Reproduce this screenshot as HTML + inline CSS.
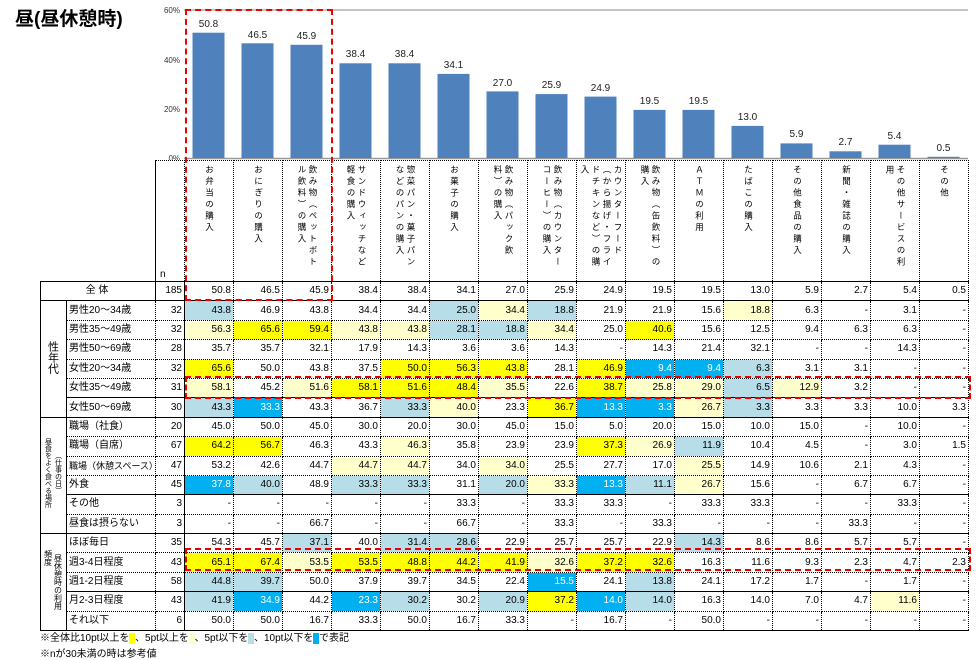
<!DOCTYPE html>
<html><head><meta charset="utf-8">
<style>
body{margin:0;width:977px;height:660px;background:#fff;position:relative;overflow:hidden;font-family:"Liberation Sans","Noto Sans CJK JP",sans-serif;}
.t{position:absolute;left:15px;top:4px;font-size:19px;font-weight:bold;}
svg{position:absolute;left:0;top:0}
table{position:absolute;left:40px;top:160px;width:928px;border-collapse:collapse;table-layout:fixed;font-size:10px;}
td{border:1px dotted #000;padding:0 2px 0 0;height:18.4px;text-align:right;white-space:nowrap;overflow:hidden;line-height:12px}
tr.s td{border-bottom:1px solid #000}
td.l{text-align:left;padding-left:2px}
td.g{text-align:center;vertical-align:middle;border:1px solid #000;font-size:9px}
td.n{border-right:1px solid #000}
.Y{background:#ffff00}.y{background:#ffffcc}.b{background:#b7dde8}.B{background:#00b0f0;color:#fff}
tr.h td{height:116px;vertical-align:top;text-align:center;padding:4px 0 0 0;border-bottom:1px solid #000}
.v{writing-mode:vertical-rl;text-orientation:upright;font-size:8.5px;height:108px;display:inline-block;text-align:left;line-height:11px;letter-spacing:3px;white-space:normal;word-break:break-all}
.vg{writing-mode:vertical-rl;text-orientation:upright;display:inline-block;line-height:10px;white-space:normal}
.note{position:absolute;left:40px;font-size:10px}
.rb{position:absolute;border:2px dashed #e00;}
</style></head><body>
<div class="t">昼(昼休憩時)</div>
<svg width="977" height="160">
<line x1="184" y1="10" x2="968" y2="10" stroke="#b0b0b0" stroke-width="1.5"/>
<line x1="184" y1="158.5" x2="968" y2="158.5" stroke="#999" stroke-width="1.5"/>
<g font-size="8" text-anchor="end" fill="#333">
<text x="180" y="13">60%</text><text x="180" y="63">40%</text><text x="180" y="112">20%</text><text x="180" y="161">0%</text></g>
<g fill="#4f81bd">
<rect x="192.5" y="32.7" width="32" height="125.3"/>
<rect x="241.5" y="43.3" width="32" height="114.7"/>
<rect x="290.5" y="44.8" width="32" height="113.2"/>
<rect x="339.5" y="63.3" width="32" height="94.7"/>
<rect x="388.5" y="63.3" width="32" height="94.7"/>
<rect x="437.5" y="73.9" width="32" height="84.1"/>
<rect x="486.5" y="91.4" width="32" height="66.6"/>
<rect x="535.5" y="94.1" width="32" height="63.9"/>
<rect x="584.5" y="96.6" width="32" height="61.4"/>
<rect x="633.5" y="109.9" width="32" height="48.1"/>
<rect x="682.5" y="109.9" width="32" height="48.1"/>
<rect x="731.5" y="125.9" width="32" height="32.1"/>
<rect x="780.5" y="143.4" width="32" height="14.6"/>
<rect x="829.5" y="151.3" width="32" height="6.7"/>
<rect x="878.5" y="144.7" width="32" height="13.3"/>
<rect x="927.5" y="156.8" width="32" height="1.2"/>
</g>
<g font-size="10" text-anchor="middle" fill="#222">
<text x="208.5" y="27">50.8</text><text x="257.5" y="38">46.5</text><text x="306.5" y="39">45.9</text>
<text x="355.5" y="57">38.4</text><text x="404.5" y="57">38.4</text><text x="453.5" y="68">34.1</text>
<text x="502.5" y="86">27.0</text><text x="551.5" y="88">25.9</text><text x="600.5" y="91">24.9</text>
<text x="649.5" y="104">19.5</text><text x="698.5" y="104">19.5</text><text x="747.5" y="120">13.0</text>
<text x="796.5" y="137">5.9</text><text x="845.5" y="145">2.7</text><text x="894.5" y="139">5.4</text><text x="943.5" y="151">0.5</text>
</g>
</svg>
<table>
<colgroup><col style="width:26px"><col style="width:89px"><col style="width:29px">
<col style="width:49px"><col style="width:49px"><col style="width:49px"><col style="width:49px"><col style="width:49px"><col style="width:49px"><col style="width:49px"><col style="width:49px"><col style="width:49px"><col style="width:49px"><col style="width:49px"><col style="width:49px"><col style="width:49px"><col style="width:49px"><col style="width:49px"><col style="width:49px"></colgroup>
<tr class="h"><td style="border:none;border-bottom:1px solid #000"></td><td style="border:none;border-bottom:1px solid #000"></td><td style="vertical-align:bottom;text-align:left;padding-left:4px;border-left:1px solid #000">n</td>
<td><span class="v">お弁当の購入</span></td>
<td><span class="v">おにぎりの購入</span></td>
<td><span class="v">飲み物（ペットボトル飲料）の購入</span></td>
<td><span class="v">サンドウィッチなど軽食の購入</span></td>
<td><span class="v">惣菜パン・菓子パンなどのパンの購入</span></td>
<td><span class="v">お菓子の購入</span></td>
<td><span class="v">飲み物（パック飲料）の購入</span></td>
<td><span class="v">飲み物（カウンターコーヒー）の購入</span></td>
<td><span class="v">カウンターフード（から揚げ・フライドチキンなど）の購入</span></td>
<td><span class="v">飲み物（缶飲料）の購入</span></td>
<td><span class="v">ＡＴＭの利用</span></td>
<td><span class="v">たばこの購入</span></td>
<td><span class="v">その他食品の購入</span></td>
<td><span class="v">新聞・雑誌の購入</span></td>
<td><span class="v">その他サービスの利用</span></td>
<td><span class="v">その他</span></td></tr>
<tr class="s"><td colspan="2" class="g" style="font-size:10px">全 体</td><td class="n">185</td><td>50.8</td><td>46.5</td><td>45.9</td><td>38.4</td><td>38.4</td><td>34.1</td><td>27.0</td><td>25.9</td><td>24.9</td><td>19.5</td><td>19.5</td><td>13.0</td><td>5.9</td><td>2.7</td><td>5.4</td><td>0.5</td></tr>
<tr><td rowspan="6" class="g"><span class="vg" style="font-size:11px;line-height:14px">性年代</span></td><td class="l">男性20～34歳</td><td class="n">32</td><td class="b">43.8</td><td>46.9</td><td>43.8</td><td>34.4</td><td>34.4</td><td class="b">25.0</td><td class="y">34.4</td><td class="b">18.8</td><td>21.9</td><td>21.9</td><td>15.6</td><td class="y">18.8</td><td>6.3</td><td>-</td><td>3.1</td><td>-</td></tr>
<tr><td class="l">男性35～49歳</td><td class="n">32</td><td class="y">56.3</td><td class="Y">65.6</td><td class="Y">59.4</td><td class="y">43.8</td><td class="y">43.8</td><td class="b">28.1</td><td class="b">18.8</td><td class="y">34.4</td><td>25.0</td><td class="Y">40.6</td><td>15.6</td><td>12.5</td><td>9.4</td><td>6.3</td><td>6.3</td><td>-</td></tr>
<tr><td class="l">男性50～69歳</td><td class="n">28</td><td>35.7</td><td>35.7</td><td>32.1</td><td>17.9</td><td>14.3</td><td>3.6</td><td>3.6</td><td>14.3</td><td>-</td><td>14.3</td><td>21.4</td><td>32.1</td><td>-</td><td>-</td><td>14.3</td><td>-</td></tr>
<tr><td class="l">女性20～34歳</td><td class="n">32</td><td class="Y">65.6</td><td>50.0</td><td>43.8</td><td>37.5</td><td class="Y">50.0</td><td class="Y">56.3</td><td class="Y">43.8</td><td>28.1</td><td class="Y">46.9</td><td class="B">9.4</td><td class="B">9.4</td><td class="b">6.3</td><td>3.1</td><td>3.1</td><td>-</td><td>-</td></tr>
<tr class="s"><td class="l">女性35～49歳</td><td class="n">31</td><td class="y">58.1</td><td>45.2</td><td class="y">51.6</td><td class="Y">58.1</td><td class="Y">51.6</td><td class="Y">48.4</td><td class="y">35.5</td><td>22.6</td><td class="Y">38.7</td><td class="y">25.8</td><td class="y">29.0</td><td class="b">6.5</td><td class="y">12.9</td><td>3.2</td><td>-</td><td>-</td></tr>
<tr class="s"><td class="l">女性50～69歳</td><td class="n">30</td><td class="b">43.3</td><td class="B">33.3</td><td>43.3</td><td>36.7</td><td class="b">33.3</td><td class="y">40.0</td><td>23.3</td><td class="Y">36.7</td><td class="B">13.3</td><td class="B">3.3</td><td class="y">26.7</td><td class="b">3.3</td><td>3.3</td><td>3.3</td><td>10.0</td><td>3.3</td></tr>
<tr><td rowspan="6" class="g" style="font-size:7px"><span class="vg" style="height:100px">昼食をよく食べる場所</span><span class="vg" style="height:100px;vertical-align:top">（仕事の日）</span></td><td class="l">職場（社食）</td><td class="n">20</td><td>45.0</td><td>50.0</td><td>45.0</td><td>30.0</td><td>20.0</td><td>30.0</td><td>45.0</td><td>15.0</td><td>5.0</td><td>20.0</td><td>15.0</td><td>10.0</td><td>15.0</td><td>-</td><td>10.0</td><td>-</td></tr>
<tr><td class="l">職場（自席）</td><td class="n">67</td><td class="Y">64.2</td><td class="Y">56.7</td><td>46.3</td><td>43.3</td><td class="y">46.3</td><td>35.8</td><td>23.9</td><td>23.9</td><td class="Y">37.3</td><td class="y">26.9</td><td class="b">11.9</td><td>10.4</td><td>4.5</td><td>-</td><td>3.0</td><td>1.5</td></tr>
<tr><td class="l" style="font-size:9px">職場（休憩スペース）</td><td class="n">47</td><td>53.2</td><td>42.6</td><td>44.7</td><td class="y">44.7</td><td class="y">44.7</td><td>34.0</td><td class="y">34.0</td><td>25.5</td><td>27.7</td><td>17.0</td><td class="y">25.5</td><td>14.9</td><td>10.6</td><td>2.1</td><td>4.3</td><td>-</td></tr>
<tr class="s"><td class="l">外食</td><td class="n">45</td><td class="B">37.8</td><td class="b">40.0</td><td>48.9</td><td class="b">33.3</td><td class="b">33.3</td><td>31.1</td><td class="b">20.0</td><td class="y">33.3</td><td class="B">13.3</td><td class="b">11.1</td><td class="y">26.7</td><td>15.6</td><td>-</td><td>6.7</td><td>6.7</td><td>-</td></tr>
<tr><td class="l">その他</td><td class="n">3</td><td>-</td><td>-</td><td>-</td><td>-</td><td>-</td><td>33.3</td><td>-</td><td>33.3</td><td>33.3</td><td>-</td><td>33.3</td><td>33.3</td><td>-</td><td>-</td><td>33.3</td><td>-</td></tr>
<tr class="s"><td class="l">昼食は摂らない</td><td class="n">3</td><td>-</td><td>-</td><td>66.7</td><td>-</td><td>-</td><td>66.7</td><td>-</td><td>33.3</td><td>-</td><td>33.3</td><td>-</td><td>-</td><td>-</td><td>33.3</td><td>-</td><td>-</td></tr>
<tr><td rowspan="5" class="g" style="font-size:8px"><span class="vg" style="height:40px;vertical-align:middle">頻度</span><span class="vg" style="height:88px;vertical-align:top">昼休憩時の利用</span></td><td class="l">ほぼ毎日</td><td class="n">35</td><td>54.3</td><td>45.7</td><td class="b">37.1</td><td>40.0</td><td class="b">31.4</td><td class="b">28.6</td><td>22.9</td><td>25.7</td><td>25.7</td><td>22.9</td><td class="b">14.3</td><td>8.6</td><td>8.6</td><td>5.7</td><td>5.7</td><td>-</td></tr>
<tr><td class="l">週3-4日程度</td><td class="n">43</td><td class="Y">65.1</td><td class="Y">67.4</td><td class="y">53.5</td><td class="Y">53.5</td><td class="Y">48.8</td><td class="Y">44.2</td><td class="Y">41.9</td><td class="y">32.6</td><td class="Y">37.2</td><td class="Y">32.6</td><td>16.3</td><td>11.6</td><td>9.3</td><td>2.3</td><td>4.7</td><td>2.3</td></tr>
<tr class="s"><td class="l">週1-2日程度</td><td class="n">58</td><td class="b">44.8</td><td class="b">39.7</td><td>50.0</td><td>37.9</td><td>39.7</td><td>34.5</td><td>22.4</td><td class="B">15.5</td><td>24.1</td><td class="b">13.8</td><td>24.1</td><td>17.2</td><td>1.7</td><td>-</td><td>1.7</td><td>-</td></tr>
<tr><td class="l">月2-3日程度</td><td class="n">43</td><td class="b">41.9</td><td class="B">34.9</td><td>44.2</td><td class="B">23.3</td><td class="b">30.2</td><td>30.2</td><td class="b">20.9</td><td class="Y">37.2</td><td class="B">14.0</td><td class="b">14.0</td><td>16.3</td><td>14.0</td><td>7.0</td><td>4.7</td><td class="y">11.6</td><td>-</td></tr>
<tr class="s"><td class="l">それ以下</td><td class="n">6</td><td>50.0</td><td>50.0</td><td>16.7</td><td>33.3</td><td>50.0</td><td>16.7</td><td>33.3</td><td>-</td><td>16.7</td><td>-</td><td>50.0</td><td>-</td><td>-</td><td>-</td><td>-</td><td>-</td></tr>
</table>
<div class="note" style="top:629px">※全体比10pt以上を<span style="background:#ff0">&nbsp;&nbsp;</span>、5pt以上を<span style="background:#ffffcc">&nbsp;&nbsp;</span>、5pt以下を<span style="background:#b7dde8">&nbsp;&nbsp;</span>、10pt以下を<span style="background:#00b0f0">&nbsp;&nbsp;</span>で表記</div>
<div class="note" style="top:645px">※nが30未満の時は参考値</div>
<div class="rb" style="left:185px;top:9px;width:144px;height:288px"></div>
<div class="rb" style="left:185px;top:376px;width:782px;height:19px"></div>
<div class="rb" style="left:185px;top:548px;width:782px;height:19px"></div>
</body></html>
